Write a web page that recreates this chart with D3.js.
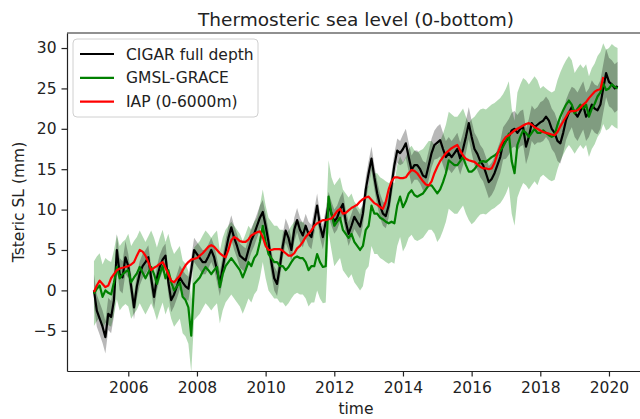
<!DOCTYPE html>
<html>
<head>
<meta charset="utf-8">
<script src="https://cdn.jsdelivr.net/npm/d3@7"></script>
<style>
body { margin: 0; background: #fff; }
svg text { font-family: "DejaVu Sans", sans-serif; fill: #222; }
</style>
</head>
<body>
<script>
const w = 640;
const h = 419;

// monthly values, first month = Jan 2005
const startYear = 2005;
const xTicks = [2006, 2008, 2010, 2012, 2014, 2016, 2018, 2020];
const yTicks = [-5, 0, 5, 10, 15, 20, 25, 30];
const seriesNames = ["CIGAR full depth", "GMSL-GRACE", "IAP (0-6000m)"];

const cigar = [
    0, -2.5, -3.5, -4.5, -5.8, -2.9, -3.3, -1.2, 5.0, 2.0, 1.6, 4.1,
    3.0, 0.5, -2.1, 0.5, 2.1, 3.0, 3.5, 4.1, 1.5, -0.8, 1.5, 2.9,
    3.8, 4.3, 1.0, -1.2, -0.5, 0.5, 1.6, 1.0, 0.5, 0.2, 2.5, 5.0,
    4.5, 4.0, 3.5, 3.5, 4.2, 5.0, 4.1, 2.5, 0.8, 2.8, 4.8, 6.5,
    7.8, 6.5, 5.5, 4.3, 4.0, 3.7, 5.0, 6.2, 7.0, 8.0, 9.0, 9.7,
    8.0, 6.0, 3.5, 1.5, 0.8, 3.0, 5.5, 7.4, 6.5, 5.0, 7.5, 8.7,
    7.5, 6.8, 8.0, 7.0, 6.6, 8.5, 10.5, 8.0, 6.6, 8.5, 10.7, 9.5,
    8.5, 9.0, 10.0, 10.7, 8.5, 7.0, 8.0, 9.1, 8.5, 7.9, 9.5, 12.5,
    14.5, 16.3, 14.0, 12.0, 10.5, 9.5, 9.2, 10.5, 13.0, 15.5, 17.3, 17.0,
    17.5, 18.2, 16.5, 14.9, 15.5, 15.5, 15.0, 14.2, 14.0, 15.5, 17.0, 18.0,
    18.3, 18.6, 17.5, 16.5, 17.0, 16.5, 17.0, 17.5, 16.3, 17.5, 19.0, 20.7,
    19.0, 17.5, 16.9, 16.0, 15.5, 14.5, 13.4, 13.8, 14.5, 15.5, 16.5, 18.2,
    18.5, 19.0, 19.8, 20.0, 19.5, 20.0, 20.2, 17.8, 19.0, 20.7, 20.2, 20.5,
    20.8, 21.0, 21.5, 21.0, 20.0, 19.5, 18.5, 18.2, 19.5, 21.1, 22.0, 22.7,
    22.0, 21.5, 22.2, 22.9, 21.5, 22.0, 23.0, 22.5, 22.3, 23.0, 25.0, 26.9,
    25.8, 25.5, 25.0, 25.3
];

const grace = [
    -0.4, 0.2, 0.6, -0.8, 0.0, -0.3, -0.5, 1.0, 2.9, 1.5, 2.0, 2.3,
    2.5, 1.0, 1.6, 2.1, 2.9, 2.2, 1.5, 2.2, 2.9, 2.0, 0.8, 2.0,
    3.0, 1.5, 2.5, 1.0, 0.0, 0.5, 1.0, -0.8, -1.2, -2.1, -5.6, 0.8,
    1.2, 1.6, 2.3, 2.9, 2.5, 2.0, 2.5, 2.9, 0.4, 2.0, 3.0, 3.5,
    4.0, 3.5, 3.0, 2.5, 1.6, 2.5, 3.5, 3.0, 4.0, 4.5, 6.0, 8.0,
    6.0, 4.5, 4.0, 3.5, 3.5, 3.0, 3.0, 2.5, 2.9, 3.5, 4.0, 4.2,
    4.0, 4.0, 3.5, 2.5, 3.0, 3.0, 4.5, 3.5, 2.9, 3.0, 11.6, 9.5,
    8.0, 8.5, 9.0, 7.5, 7.0, 6.5, 7.0, 6.0, 5.5, 5.0, 5.5, 7.5,
    8.0, 10.5, 9.5, 9.5, 9.0, 8.8, 8.5, 8.3, 8.5, 8.3, 10.5, 11.6,
    10.3, 11.0, 12.0, 12.4, 11.8, 11.6, 11.8, 12.0, 12.5, 13.0, 13.0, 12.5,
    12.0, 12.5, 13.4, 14.5, 16.1, 15.8, 15.5, 15.5, 16.0, 16.5, 15.5, 14.7,
    14.7, 15.0, 15.5, 15.9, 16.0, 15.9, 16.2, 16.5, 16.7, 17.0, 17.3, 17.8,
    18.5, 19.4, 16.0, 14.5, 18.0, 19.0, 19.8, 19.5, 19.0, 19.5, 20.0, 19.5,
    19.5, 19.8, 19.5, 19.2, 19.0, 19.2, 20.5, 21.5, 22.3, 23.0, 23.5, 23.0,
    21.9, 22.5, 23.0, 22.5, 23.0, 21.5, 22.5, 23.1, 24.0, 24.5, 25.6, 24.8,
    25.0, 25.5, 25.2, 25.0
];

const iap = [
    -0.2, 0.6, 1.2, 0.8, 0.4, 0.6, 1.5, 2.0, 2.5, 2.7, 2.8, 2.9,
    3.0, 3.2, 3.5, 4.3, 5.0, 4.8, 4.3, 3.5, 2.5, 2.8, 3.0, 3.3,
    3.5, 2.8, 2.0, 1.2, 1.0, 1.4, 1.8, 2.5, 3.1, 3.5, 3.8, 3.9,
    4.0, 4.3, 4.6, 5.0, 5.4, 5.6, 5.4, 5.0, 4.6, 4.3, 4.1, 5.0,
    6.2, 6.6, 6.4, 6.1, 6.0, 6.0, 6.3, 6.8, 7.0, 7.2, 7.3, 6.6,
    5.5, 5.0, 5.0, 5.1, 5.1, 5.1, 4.9, 4.6, 4.3, 4.3, 4.6, 5.2,
    5.5, 6.0, 6.6, 7.0, 7.4, 8.0, 8.3, 8.5, 8.7, 8.7, 8.8, 8.9,
    9.3, 9.8, 10.1, 9.5, 9.6, 9.9, 10.2, 10.4, 10.6, 11.0, 11.3, 11.5,
    11.6, 11.2, 10.8, 10.6, 10.3, 10.1, 11.0, 12.5, 13.5, 14.0, 14.0, 13.9,
    13.9, 14.0, 14.5, 14.9, 14.8, 14.5, 14.0, 13.5, 13.1, 13.0, 13.5, 14.5,
    15.3, 16.0, 16.5, 17.0, 17.3, 17.6, 17.8, 18.0, 17.3, 16.7, 16.3, 16.1,
    16.0, 15.9, 15.6, 15.3, 15.1, 15.1, 15.0, 15.1, 15.8, 16.9, 17.8, 18.5,
    19.0, 19.2, 19.5, 19.8, 20.0, 20.2, 20.4, 20.6, 20.7, 20.5, 20.2, 20.0,
    19.8, 19.6, 19.5, 19.4, 19.3, 19.2, 19.6, 20.3, 20.9, 21.5, 22.1, 22.2,
    22.2, 22.3, 22.6, 23.0, 23.3, 23.8, 24.2, 24.6, 24.8, 24.9, 26.4
];

// half width of the shaded ranges, one value per year 2005..2020
const cigarErr = [2.0, 1.5, 1.5, 1.5, 1.5, 1.5, 1.5, 1.5, 1.5, 1.8, 2.0, 2.0, 2.2, 2.5, 3.0, 3.0];
const graceErr = [4.0, 4.5, 4.5, 4.5, 4.5, 4.5, 4.5, 5.0, 5.0, 5.5, 6.0, 6.5, 6.5, 5.5, 5.0, 5.0];

function toPoints(values, err) {
    return values.map((v, i) => ({
        t: startYear + i / 12,
        v: v,
        e: err ? err[Math.floor(i / 12)] : 0
    }));
}

function createChart() {
    const svg = d3.select("body")
        .append("svg")
        .attr("width", w)
        .attr("height", h)
        ;

    const left = 67, right = 644, top = 33, bottom = 371;

    const xScale = d3.scaleLinear()
        .domain([2004.215, 2021.02])
        .range([left, right])
        ;
    const yScale = d3.scaleLinear()
        .domain([-9.98, 31.86])
        .range([bottom, top])
        ;

    const cigarPts = toPoints(cigar, cigarErr);
    const gracePts = toPoints(grace, graceErr);
    const iapPts = toPoints(iap);

    const band = d3.area()
        .x(d => xScale(d.t))
        .y0(d => yScale(d.v - d.e))
        .y1(d => yScale(d.v + d.e))
        ;
    const line = d3.line()
        .x(d => xScale(d.t))
        .y(d => yScale(d.v))
        ;

    svg.append("path")
        .attr("d", band(gracePts))
        .attr("fill", "green")
        .attr("fill-opacity", 0.3)
        ;
    svg.append("path")
        .attr("d", band(cigarPts))
        .attr("fill", "#000")
        .attr("fill-opacity", 0.28)
        ;

    const lines = [
        { pts: cigarPts, color: "#000" },
        { pts: gracePts, color: "green" },
        { pts: iapPts, color: "red" }
    ];
    lines.forEach(s => {
        svg.append("path")
            .attr("d", line(s.pts))
            .attr("fill", "none")
            .attr("stroke", s.color)
            .attr("stroke-width", 2.2)
            .attr("stroke-linejoin", "round")
            ;
    });

    // axes (inner ticks only, spines drawn by the domain paths)
    const xAxis = d3.axisBottom(xScale)
        .tickValues(xTicks)
        .tickFormat(d3.format("d"))
        .tickSizeInner(5.5)
        .tickSizeOuter(0)
        .tickPadding(5)
        ;
    const yAxis = d3.axisLeft(yScale)
        .tickValues(yTicks)
        .tickFormat(d => d < 0 ? "\u2212" + Math.abs(d) : d)
        .tickSizeInner(5.5)
        .tickSizeOuter(0)
        .tickPadding(5)
        ;

    const gx = svg.append("g")
        .attr("transform", "translate(0, " + bottom + ")")
        .call(xAxis)
        ;
    const gy = svg.append("g")
        .attr("transform", "translate(" + left + ", 0)")
        .call(yAxis)
        ;
    [gx, gy].forEach(g => {
        g.attr("font-size", 15.5).attr("font-family", null);
        g.selectAll("path, line").attr("stroke", "#222").attr("stroke-width", 1.2);
    });

    svg.append("line")
        .attr("x1", left).attr("x2", right)
        .attr("y1", top).attr("y2", top)
        .attr("stroke", "#222")
        .attr("stroke-width", 1.2)
        ;

    // labels
    svg.append("text")
        .attr("x", 356)
        .attr("y", 26)
        .attr("text-anchor", "middle")
        .attr("font-size", 18.5)
        .text("Thermosteric sea level (0-bottom)")
        ;
    svg.append("text")
        .attr("x", 356)
        .attr("y", 414)
        .attr("text-anchor", "middle")
        .attr("font-size", 15.5)
        .text("time")
        ;
    svg.append("text")
        .attr("transform", "translate(24, 202) rotate(-90)")
        .attr("text-anchor", "middle")
        .attr("font-size", 15.5)
        .text("Tsteric SL (mm)")
        ;

    // legend
    const legend = svg.append("g");
    legend.append("rect")
        .attr("x", 73).attr("y", 39)
        .attr("width", 185).attr("height", 78)
        .attr("rx", 4)
        .attr("fill", "#fff")
        .attr("fill-opacity", 0.8)
        .attr("stroke", "#d0d0d0")
        ;
    seriesNames.forEach((name, i) => {
        const yy = 54 + i * 23.8;
        legend.append("line")
            .attr("x1", 80).attr("x2", 114)
            .attr("y1", yy).attr("y2", yy)
            .attr("stroke", lines[i].color)
            .attr("stroke-width", 2.2)
            ;
        legend.append("text")
            .attr("x", 126)
            .attr("y", yy)
            .attr("dy", "0.36em")
            .attr("font-size", 15.5)
            .text(name)
            ;
    });
}

createChart();
</script>
</body>
</html>
